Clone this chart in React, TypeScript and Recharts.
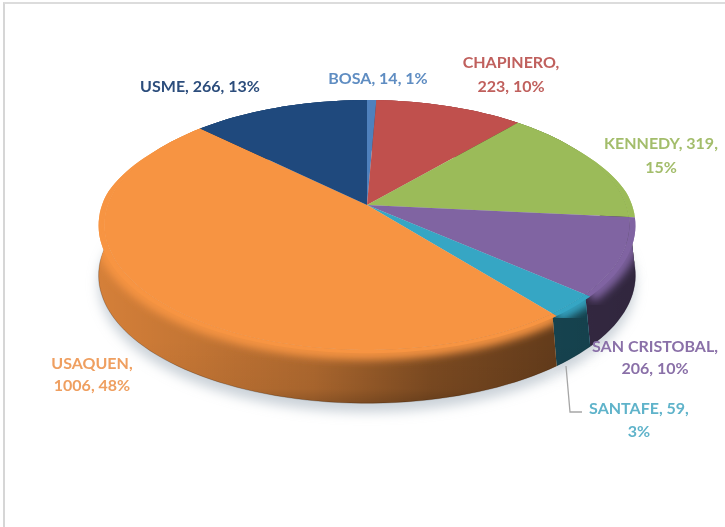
import { PieChart, Pie } from 'recharts';

const categories = ['BOSA', 'CHAPINERO', 'KENNEDY', 'SAN CRISTOBAL', 'SANTAFE', 'USAQUEN', 'USME'];
const values = [14, 223, 319, 206, 59, 1006, 266];
const percents = ['1%', '10%', '15%', '10%', '3%', '48%', '13%'];
const colors = ['#4f81bd', '#c0504d', '#9bbb59', '#8064a2', '#36a6c4', '#f79442', '#1f497d'];
const labelColors = ['#5f8dc2', '#c0605d', '#a3bd6b', '#8a70a8', '#5fb3ca', '#ef9f60', '#2c4d7c'];

const data = categories.map((name, i) => ({ name, value: values[i], percent: percents[i] }));

// label text is split the way it wraps in the picture
const labelText = [
  ['BOSA, 14, 1%'],
  ['CHAPINERO,', '223, 10%'],
  ['KENNEDY, 319,', '15%'],
  ['SAN CRISTOBAL,', '206, 10%'],
  ['SANTAFE, 59,', '3%'],
  ['USAQUEN,', '1006, 48%'],
  ['USME, 266, 13%'],
];
const labelPos = [
  [378, 84],
  [511, 68],
  [661, 149],
  [655, 352],
  [639, 414],
  [92, 369],
  [200, 92],
];
const lineGap = [0, 24, 24, 22, 23, 22, 0];

// tilt of the disc: far edge is smaller than the near edge
const TILT = 0.16;
const SQUASH = 0.47;
const RIM = 0.023;
const DEPTH = 50;

// rim only sticks out past the face on the front half
const rimScale = (t: number) => {
  const f = Math.min(1, Math.max(0, (0.5 - Math.cos(t)) / 0.4));
  return 1 + RIM * f;
};

const project = (cx: number, cy: number, r: number, angle: number, useRim: boolean) => {
  const t = ((90 - angle) * Math.PI) / 180;
  const w = 1 + TILT * Math.cos(t);
  const rr = useRim ? r * rimScale(t) : r;
  return [cx + (rr * Math.sin(t)) / w, cy - (rr * SQUASH * Math.cos(t)) / w];
};

const arcPoints = (cx: number, cy: number, r: number, from: number, to: number, useRim = false, shift = 0) => {
  const steps = Math.max(2, Math.ceil(Math.abs(to - from) / 2));
  const pts = [];
  for (let i = 0; i <= steps; i++) {
    const [x, y] = project(cx, cy, r, from + ((to - from) * i) / steps, useRim);
    pts.push(`${x.toFixed(1)},${(y + shift).toFixed(1)}`);
  }
  return pts;
};

const TopShape = (props: any) => {
  const { cx, cy, outerRadius, startAngle, endAngle, fill } = props;
  const pts = arcPoints(cx, cy, outerRadius, startAngle, endAngle);
  return <polygon points={[`${cx},${cy}`, ...pts].join(' ')} fill={fill} stroke="none" />;
};

const SideShape = (props: any) => {
  const { cx, cy, outerRadius, startAngle, endAngle, fill } = props;
  const face = arcPoints(cx, cy, outerRadius, startAngle, endAngle);
  const bottom = arcPoints(cx, cy, outerRadius, startAngle, endAngle, true, DEPTH);
  const rim = arcPoints(cx, cy, outerRadius, startAngle, endAngle, true);
  const band = [...face, ...[...bottom].reverse()].join(' ');
  const rimBand = [...rim, ...[...face].reverse()].join(' ');
  const clipId = `band${Math.round(startAngle * 10)}`;
  return (
    <g>
      <clipPath id={clipId}>
        <polygon points={band} />
        <polygon points={rimBand} />
      </clipPath>
      <polygon points={band} fill={fill} />
      <polygon points={band} fill="url(#sideShade)" />
      <polygon points={band} fill="url(#sideFade)" />
      <polyline points={bottom.join(' ')} fill="none" stroke="#000" strokeOpacity={0.22} strokeWidth={1} />
      <polygon points={rimBand} fill={fill} />
      <g clipPath={`url(#${clipId})`}>
        <polyline points={rim.join(' ')} fill="none" stroke={fill} strokeWidth={13} filter="url(#soft)" />
      </g>
    </g>
  );
};

const ShadowShape = (props: any) => {
  const { cx, cy, outerRadius, startAngle, endAngle } = props;
  const bottom = arcPoints(cx, cy, outerRadius, startAngle, endAngle, true, DEPTH + 9);
  return <polygon points={[`${cx},${cy}`, ...bottom].join(' ')} fill="#a9b4c0" fillOpacity={0.6} filter="url(#shadow)" />;
};

const renderLabel = (props: any) => {
  const i = props.index;
  const [x, y] = labelPos[i];
  return (
    <text key={i} x={x} y={y} textAnchor="middle" fontFamily="Lato" fontWeight={700} fontSize={16} fill={labelColors[i]}>
      {labelText[i].map((line, n) => (
        <tspan key={n} x={x} dy={n === 0 ? 0 : lineGap[i]}>{line}</tspan>
      ))}
    </text>
  );
};

const withFill = data.map((d, i) => ({ ...d, fill: colors[i] }));

const pieProps = {
  data: withFill,
  dataKey: 'value',
  nameKey: 'name',
  cx: 367,
  cy: 205,
  outerRadius: 259,
  startAngle: 90,
  endAngle: -270,
  stroke: 'none',
  isAnimationActive: false,
  labelLine: false,
};

export default function App() {
  return (
    <div style={{ position: 'absolute', left: 0, top: 0, width: 725, height: 527, background: '#fff', overflow: 'hidden' }}>
      <div style={{ position: 'absolute', left: 3, top: 2, width: 720, height: 523, borderLeft: '2px solid #d6d6d6', borderTop: '2px solid #dcdcdc', borderBottom: '1px solid #e4e4e4', borderRight: '1px solid #f2f2f2' }} />
      <div style={{ position: 'absolute', left: 0, top: 0, filter: 'blur(0.5px)' }}>
        <PieChart width={725} height={527} margin={{ top: 0, right: 0, bottom: 0, left: 0 }}>
          <defs>
            <linearGradient id="sideShade" gradientUnits="userSpaceOnUse" x1="98" y1="0" x2="636" y2="0">
              <stop offset="0%" stopColor="#000" stopOpacity={0.14} />
              <stop offset="40%" stopColor="#000" stopOpacity={0.3} />
              <stop offset="62%" stopColor="#000" stopOpacity={0.5} />
              <stop offset="85%" stopColor="#000" stopOpacity={0.6} />
              <stop offset="100%" stopColor="#000" stopOpacity={0.62} />
            </linearGradient>
            <linearGradient id="sideFade" gradientUnits="userSpaceOnUse" x1="0" y1="340" x2="0" y2="405">
              <stop offset="0%" stopColor="#000" stopOpacity={0} />
              <stop offset="75%" stopColor="#000" stopOpacity={0.04} />
              <stop offset="100%" stopColor="#000" stopOpacity={0.2} />
            </linearGradient>
            <filter id="soft" x="-10%" y="-10%" width="120%" height="120%">
              <feGaussianBlur stdDeviation="4" />
            </filter>
            <filter id="shadow" x="-10%" y="-10%" width="120%" height="130%">
              <feGaussianBlur stdDeviation="6" />
            </filter>
          </defs>
          <Pie {...pieProps} shape={ShadowShape} />
          <Pie {...pieProps} shape={SideShape} />
          <Pie {...pieProps} shape={TopShape} label={renderLabel} />
        </PieChart>
      </div>
      <svg width={725} height={527} style={{ position: 'absolute', left: 0, top: 0, filter: 'blur(0.4px)' }}>
        <polyline points="566,366 570,412 582,412" fill="none" stroke="#a6a6a6" strokeWidth={1.3} />
      </svg>
    </div>
  );
}
